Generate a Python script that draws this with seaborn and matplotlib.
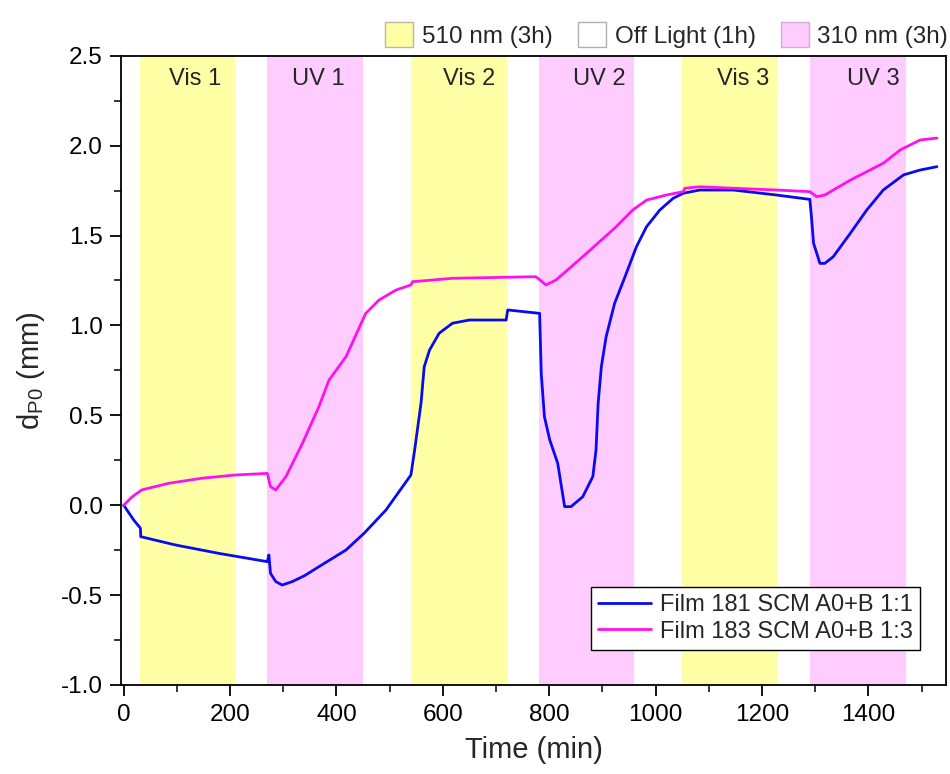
import numpy as np
import pandas as pd
import matplotlib
matplotlib.use("Agg")
import matplotlib.pyplot as plt
from matplotlib.patches import Patch
from matplotlib.ticker import MultipleLocator
import seaborn as sns

# ---------------- data ----------------
t_181 = [0, 19, 31.5, 32, 97, 179, 270, 273, 276, 286, 298, 317, 340, 367, 418, 452, 493, 540,
         547, 559, 565, 575, 593, 618, 650, 719, 722, 782, 785, 791, 801, 816, 823, 829, 841,
         863, 882, 888, 892, 898, 907, 923, 945, 964, 983, 1008, 1033, 1052, 1083, 1146, 1228,
         1290, 1293, 1297, 1309, 1318, 1334, 1366, 1397, 1428, 1466, 1497, 1529]
d_181 = [0.0, -0.083, -0.128, -0.175, -0.221, -0.268, -0.314, -0.277, -0.379, -0.425, -0.444,
         -0.425, -0.392, -0.342, -0.249, -0.156, -0.027, 0.168, 0.307, 0.567, 0.770, 0.863, 0.956,
         1.012, 1.030, 1.030, 1.086, 1.067, 0.734, 0.492, 0.363, 0.233, 0.103, -0.008, -0.008,
         0.047, 0.159, 0.307, 0.567, 0.770, 0.937, 1.123, 1.290, 1.438, 1.549, 1.642, 1.707,
         1.735, 1.753, 1.753, 1.725, 1.701, 1.605, 1.457, 1.345, 1.345, 1.382, 1.512, 1.642,
         1.753, 1.837, 1.864, 1.883]

t_183 = [0, 16, 34, 85, 147, 210, 270, 276, 286, 305, 336, 367, 386, 418, 455, 480, 512, 540,
         543, 618, 775, 794, 813, 863, 926, 957, 983, 1020, 1052, 1055, 1083, 1146, 1228, 1290,
         1303, 1318, 1366, 1428, 1460, 1497, 1529]
d_183 = [0.0, 0.047, 0.085, 0.122, 0.150, 0.168, 0.177, 0.103, 0.085, 0.159, 0.344, 0.548,
         0.696, 0.826, 1.067, 1.141, 1.197, 1.225, 1.243, 1.262, 1.271, 1.225, 1.253, 1.382,
         1.549, 1.642, 1.697, 1.725, 1.744, 1.763, 1.771, 1.763, 1.753, 1.744, 1.716, 1.725,
         1.808, 1.902, 1.976, 2.031, 2.042]

series_names = ["Film 181 SCM A0+B 1:1", "Film 183 SCM A0+B 1:3"]

phase_labels = ["Vis 1", "UV 1", "Vis 2", "UV 2", "Vis 3", "UV 3"]
phase_start = [30, 270, 540, 780, 1050, 1290]
phase_end = [210, 450, 720, 960, 1230, 1470]
phase_kind = ["vis", "uv", "vis", "uv", "vis", "uv"]
phase_label_x = [135, 365, 650, 895, 1165, 1410]

legend_top_labels = ["510 nm (3h)", "Off Light (1h)", "310 nm (3h)"]

# ---------------- style ----------------
sns.set_style("ticks")
plt.rcParams["font.family"] = ["Liberation Sans", "DejaVu Sans"]
plt.rcParams["mathtext.fontset"] = "custom"
plt.rcParams["mathtext.rm"] = "Liberation Sans"
plt.rcParams["axes.unicode_minus"] = False

YELLOW = "#FFFFA6"
PINK = "#FFCCFF"
BLUE = "#0A0AF0"
MAGENTA = "#FF10F0"

fig = plt.figure(figsize=(9.5, 7.74), dpi=100)
ax = fig.add_axes([0.1274, 0.115, 0.8684, 0.813])

colors = {"vis": YELLOW, "uv": PINK}
for s, e, k, lab, lx in zip(phase_start, phase_end, phase_kind, phase_labels, phase_label_x):
    ax.axvspan(s, e, color=colors[k], lw=0, zorder=0)
    ax.text(lx, 2.37, lab, ha="center", va="center", fontsize=17, zorder=3)

df = pd.concat([
    pd.DataFrame({"t": t_181, "d": d_181, "s": series_names[0]}),
    pd.DataFrame({"t": t_183, "d": d_183, "s": series_names[1]}),
])
sns.lineplot(data=df, x="t", y="d", hue="s", palette=[BLUE, MAGENTA],
             estimator=None, sort=False, lw=2.0, ax=ax, zorder=2)

ax.set_xlim(-5, 1546)
ax.set_ylim(-1.0, 2.5)
ax.xaxis.set_major_locator(MultipleLocator(200))
ax.xaxis.set_minor_locator(MultipleLocator(100))
ax.yaxis.set_major_locator(MultipleLocator(0.5))
ax.yaxis.set_minor_locator(MultipleLocator(0.25))
ax.tick_params(axis="both", which="major", direction="out", length=8, width=1.3,
               labelsize=17.5, colors="black")
ax.tick_params(axis="x", which="major", pad=6)
ax.tick_params(axis="y", which="major", pad=5)
ax.tick_params(axis="both", which="minor", direction="out", length=5, width=1.3)
ax.tick_params(top=False, right=False, which="both")
for sp in ax.spines.values():
    sp.set_visible(True)
    sp.set_linewidth(1.3)
    sp.set_color("black")

ax.set_xlabel("Time (min)", fontsize=21, labelpad=7)
ax.set_ylabel(r"d$_\mathregular{P0}$ (mm)", fontsize=21, labelpad=10)

leg = ax.legend(loc="lower right", bbox_to_anchor=(0.968, 0.056), fontsize=17,
                frameon=True, fancybox=False, edgecolor="black", framealpha=1,
                handlelength=2.25, borderpad=0.3, labelspacing=0.2, handletextpad=0.35,
                borderaxespad=0)
leg.get_frame().set_linewidth(1.0)

handles = [Patch(facecolor=YELLOW, edgecolor="#B8B8A0", lw=1.0),
           Patch(facecolor="white", edgecolor="#B0B0B0", lw=1.0),
           Patch(facecolor=PINK, edgecolor="#D0B0D0", lw=1.0)]
fig.legend(handles, legend_top_labels, loc="upper right", bbox_to_anchor=(1.0135, 0.99),
           ncol=3, frameon=False, fontsize=17.5, handlelength=1.15, handleheight=1.2,
           handletextpad=0.35, columnspacing=1.05, borderaxespad=0.2)

fig.savefig("out.png", dpi=100)
